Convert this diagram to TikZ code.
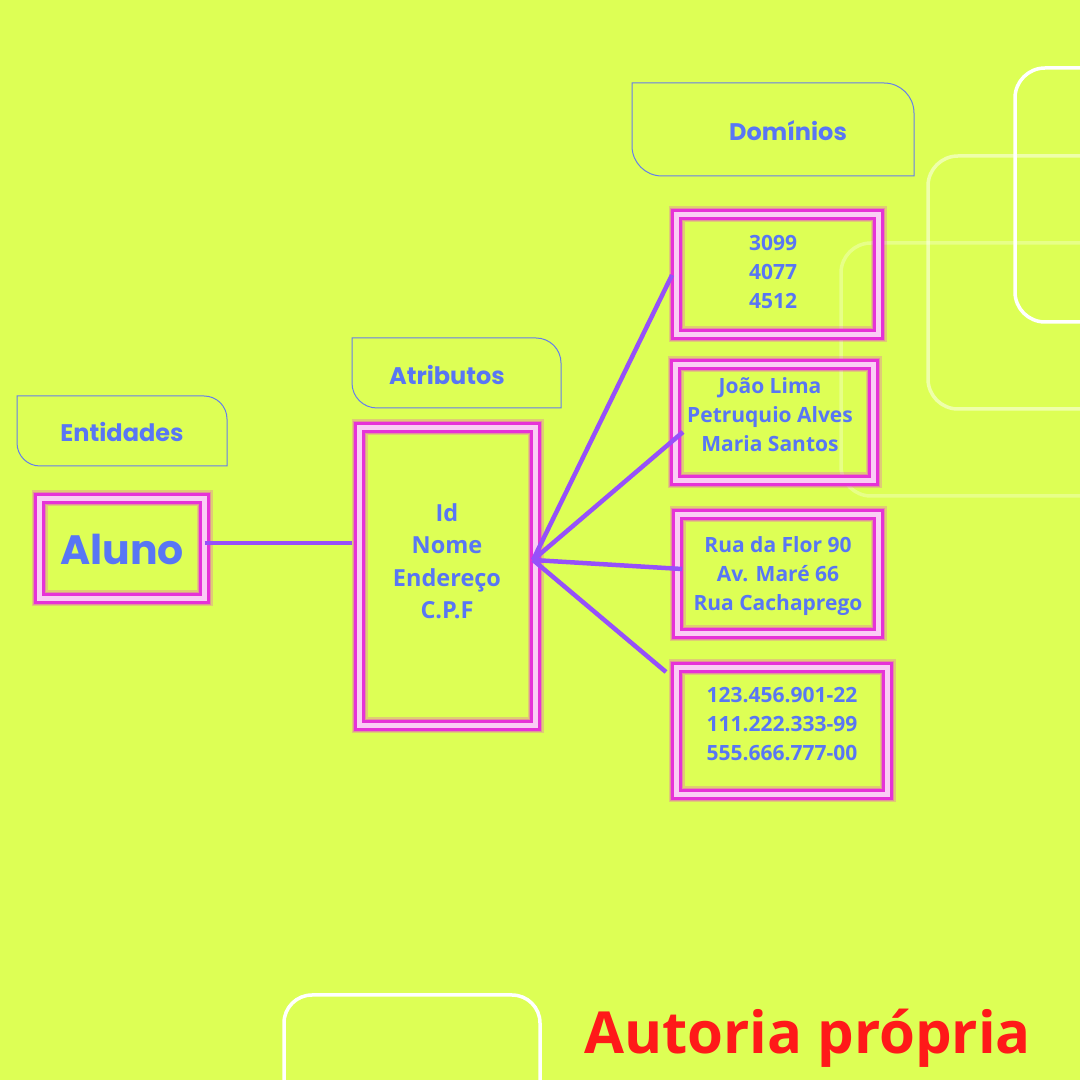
\documentclass[tikz,border=0pt]{standalone}
\usepackage{fontspec}
\newfontfamily\popf{Poppins}
\newfontfamily\osf{Open Sans}
\definecolor{bgc}{RGB}{221,255,85}
\definecolor{txtb}{RGB}{88,118,245}
\definecolor{conc}{RGB}{150,80,250}
\definecolor{mag}{RGB}{230,50,215}
\definecolor{pinkb}{RGB}{250,205,245}
\definecolor{tabc}{RGB}{100,125,235}
\definecolor{redc}{RGB}{255,25,25}
\pgfdeclarelayer{back}
\pgfdeclarelayer{glowl}
\pgfsetlayers{back,glowl,main}
\newcommand\mytab[5]{%
  \draw[tabline] (#1,#4) -- ({#3-#5},#4) arc[start angle=90,end angle=0,radius=#5]
    -- (#3,#2) -- ({#1+#5},#2) arc[start angle=270,end angle=180,radius=#5] -- cycle;}
\newcommand\myglow[1]{%
  \begin{pgfonlayer}{glowl}
  \draw[mag, draw opacity=0.25, line width=16pt] (#1.south west) rectangle (#1.north east);
  \draw[mag, draw opacity=0.35, line width=13pt] (#1.south west) rectangle (#1.north east);
  \end{pgfonlayer}}
\begin{document}
\begin{tikzpicture}[x=1pt,y=1pt,
  tabline/.style={draw=tabc, line width=1pt},
  tablabel/.style={text=txtb, font=\popf\bfseries\fontsize{24}{28}\selectfont},
  gbox/.style={draw=mag, double=pinkb, line width=2.8pt, double distance=5pt,
    rectangle, inner sep=0pt, outer sep=0pt},
  btext/.style={text=txtb, align=center, font=\osf\bfseries\fontsize{21}{29}\selectfont},
  conn/.style={draw=conc, line width=4.5pt},
  deco/.style={draw=white, line width=3.5pt, rounded corners=30pt}]
\useasboundingbox (0,0) rectangle (1080,1080);
\begin{pgfonlayer}{back}
  \fill[bgc] (0,0) rectangle (1080,1080);
  \clip (0,0) rectangle (1080,1080);
  \draw[deco] (1015,758) rectangle (1200,1012);
  \draw[deco, draw opacity=0.5] (928,671) rectangle (1200,924);
  \draw[deco, draw opacity=0.3] (841,584) rectangle (1200,837);
  \draw[deco, rounded corners=28pt] (284,-60) rectangle (540,85);
\end{pgfonlayer}

% tabs
\mytab{17}{614}{227}{684}{23}
\mytab{352}{672}{561}{742}{25}
\mytab{632}{904}{914}{997}{30}
\node[tablabel] (entl) at (122,648) {Entidades};
\node[tablabel] (atrl) at (447,705) {Atributos};
\node[tablabel] (doml) at (788,949) {Domínios};

% boxes
\node[gbox, minimum width=165pt, minimum height=100pt] (aluno) at (122,531.5) {};
\node[gbox, minimum width=176pt, minimum height=298pt] (atr) at (447.5,503.5) {};
\node[gbox, minimum width=202pt, minimum height=120pt] (d1) at (777.5,805.5) {};
\node[gbox, minimum width=198pt, minimum height=116pt] (d2) at (774.5,657.5) {};
\node[gbox, minimum width=201pt, minimum height=119pt] (d3) at (778,506) {};
\node[gbox, minimum width=211pt, minimum height=127pt] (d4) at (782,349) {};
\myglow{aluno}\myglow{atr}\myglow{d1}\myglow{d2}\myglow{d3}\myglow{d4}

% texts
\node[text=txtb, font=\popf\bfseries\fontsize{41}{48}\selectfont] (alunot) at (122,531) {Aluno};
\node[btext, font=\osf\bfseries\fontsize{23.5}{32.5}\selectfont] (atrt) at (447,519) {Id\\Nome\\Endereço\\C.P.F};
\node[btext] (d1t) at (773,808) {3099\\4077\\4512};
\node[btext] (d2t) at (770,665) {João Lima\\Petruquio Alves\\Maria Santos};
\node[btext] (d3t) at (778,504) {Rua da Flor 90\\Av. Maré 66\\Rua Cachaprego};
\node[btext] (d4t) at (782,356) {123.456.901-22\\111.222.333-99\\555.666.777-00};

% connectors
\coordinate (hub) at (533,520);
\draw[conn] ([yshift=5.5pt]aluno.east) -- ([shift={(-7.5,33.5)}]atr.west);
\draw[conn] (hub) -- ([shift={(-4.5,-0.5)}]d1.west);
\draw[conn] (hub) -- ([shift={(7.5,-9.5)}]d2.west);
\draw[conn] (hub) -- ([shift={(4.5,5)}]d3.west);
\draw[conn] (hub) -- ([shift={(-10.5,-4.5)}]d4.north west);

\node[text=redc, anchor=base, font=\osf\bfseries\fontsize{58}{64}\selectfont] (aut) at (807.5,27) {Autoria própria};
\end{tikzpicture}
\end{document}
